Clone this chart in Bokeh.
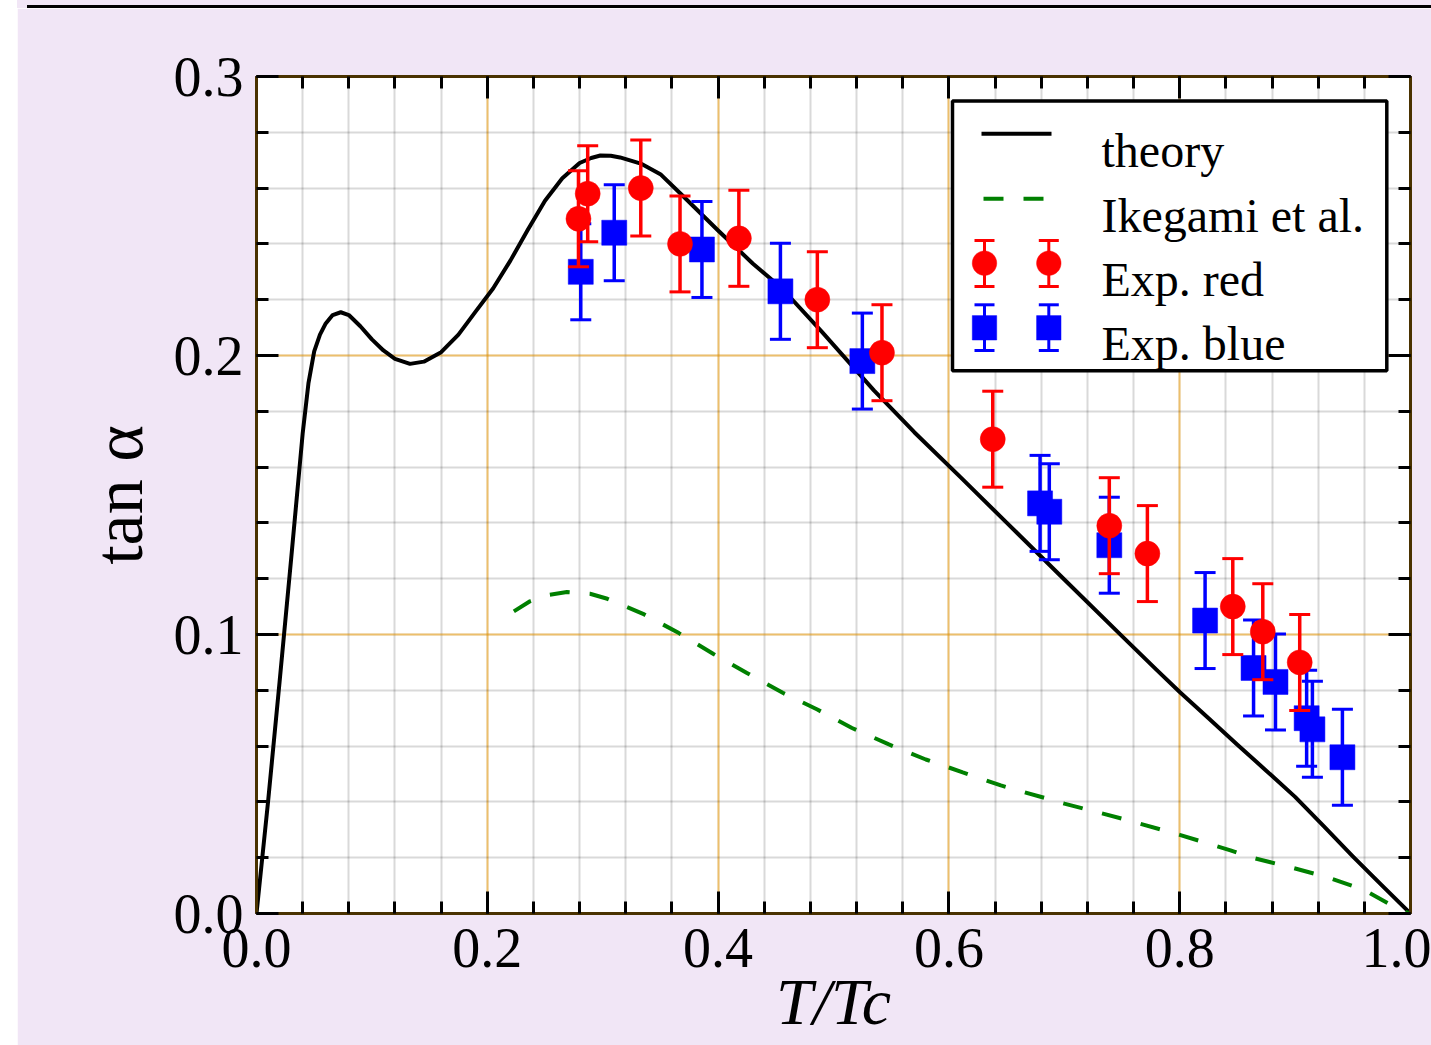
import math
from bokeh.plotting import figure
from bokeh.models import (Range1d, FixedTicker, PrintfTickFormatter, CustomJSTickFormatter,
                          LinearAxis, Label, Arrow, TeeHead, BoxAnnotation, PolyAnnotation,
                          ColumnDataSource)
from bokeh.embed import file_html
from bokeh.resources import INLINE

# ---------------- data ----------------
theory_T = [0.0, 0.01, 0.02, 0.03, 0.04, 0.045, 0.05, 0.055, 0.06, 0.066, 0.073, 0.08, 0.09, 0.10,
            0.11, 0.12, 0.133, 0.145, 0.16, 0.175, 0.19, 0.205, 0.22, 0.235, 0.25, 0.265, 0.28,
            0.29, 0.298, 0.307, 0.315, 0.333, 0.35, 0.37, 0.40, 0.43, 0.455, 0.49, 0.535, 0.57,
            0.61, 0.65, 0.70, 0.75, 0.78, 0.80, 0.825, 0.85, 0.875, 0.90, 0.925, 0.95, 0.975, 1.0]
theory_tan = [0.0, 0.040, 0.083, 0.127, 0.172, 0.190, 0.2015, 0.2075, 0.2115, 0.2145, 0.2155, 0.2145,
              0.2105, 0.2058, 0.2018, 0.1988, 0.1970, 0.1978, 0.2012, 0.2075, 0.2158, 0.2240, 0.2340,
              0.2450, 0.2555, 0.2635, 0.2690, 0.2708, 0.2717, 0.2716, 0.2710, 0.2688, 0.2650,
              0.2570, 0.2448, 0.2330, 0.2242, 0.2085, 0.1875, 0.1725, 0.1564, 0.1401, 0.1197,
              0.0994, 0.0873, 0.0794, 0.0700, 0.0605, 0.0512, 0.0418, 0.0312, 0.0205, 0.0102, 0.0]

ikegami_T = [0.223, 0.237, 0.253, 0.269, 0.289, 0.304, 0.336, 0.366, 0.396, 0.425, 0.456, 0.486,
             0.516, 0.548, 0.580, 0.612, 0.645, 0.700, 0.750, 0.800, 0.844, 0.861, 0.894, 0.928,
             0.959, 0.991, 1.0]
ikegami_tan = [0.1083, 0.1119, 0.1142, 0.1152, 0.1146, 0.1128, 0.1072, 0.1005, 0.0930, 0.0862,
               0.0791, 0.0731, 0.0665, 0.0606, 0.0552, 0.0506, 0.0459, 0.0394, 0.0340, 0.0282,
               0.0226, 0.0202, 0.0168, 0.0130, 0.0086, 0.0012, 0.0]

red_T = [0.279, 0.287, 0.333, 0.367, 0.418, 0.486, 0.542, 0.638, 0.739, 0.772, 0.846, 0.872, 0.904]
red_tan = [0.249, 0.258, 0.260, 0.240, 0.242, 0.220, 0.201, 0.170, 0.139, 0.129, 0.110, 0.101, 0.090]
red_err = [0.0172] * 13

blue_T = [0.281, 0.310, 0.386, 0.454, 0.525, 0.679, 0.687, 0.739, 0.822, 0.864, 0.883, 0.910,
          0.915, 0.941]
blue_tan = [0.230, 0.244, 0.238, 0.223, 0.198, 0.147, 0.144, 0.132, 0.105, 0.088, 0.083, 0.070,
            0.066, 0.056]
blue_err = [0.0172] * 14

x_ticks = [0.0, 0.2, 0.4, 0.6, 0.8, 1.0]
y_ticks = [0.0, 0.1, 0.2, 0.3]
x_minor = [round(0.04 * k, 2) for k in range(26)]
y_minor = [round(0.02 * k, 2) for k in range(16)]

legend_labels = ["theory", "Ikegami et al.", "Exp. red", "Exp. blue"]
x_label = "T/Tc"
y_label = "tan α"

# ---------------- styling constants ----------------
LAV = "#f1e6f6"
FONT = "Liberation Serif"
SPINE = "#4a3200"
X0, X1, Y0, Y1 = 0.0, 1.0, 0.0, 0.3
FW, FH = 1154, 837          # frame size in px


def dx(px):  # px from frame left -> data x
    return X0 + px / FW * (X1 - X0)


def dy(py):  # px from frame top -> data y
    return Y1 - py / FH * (Y1 - Y0)


p = figure(width=1414, height=1037, x_range=Range1d(X0, X1), y_range=Range1d(Y0, Y1),
           output_backend="svg", toolbar_location=None, title=None,
           min_border_left=239, min_border_right=21, min_border_top=68, min_border_bottom=132,
           background_fill_color="white", border_fill_color=LAV, outline_line_color=None)
p.margin = (8, 0, 0, 17)
p.styles = {"box-shadow": "10px -3px 0 0 #000000, 0 -8px 0 0 " + LAV}
p.add_layout(LinearAxis(), "above")
p.add_layout(LinearAxis(), "right")

for ax in p.xaxis:
    ax.ticker = FixedTicker(ticks=x_ticks, minor_ticks=x_minor)
for ax in p.yaxis:
    ax.ticker = FixedTicker(ticks=y_ticks, minor_ticks=y_minor)

for ax in list(p.xaxis) + list(p.yaxis):
    ax.axis_line_color = SPINE
    ax.axis_line_width = 3
    ax.major_tick_in = 22
    ax.major_tick_out = 0
    ax.minor_tick_in = 12
    ax.minor_tick_out = 0
    ax.major_tick_line_color = "black"
    ax.minor_tick_line_color = "black"
    ax.major_tick_line_width = 3
    ax.minor_tick_line_width = 3
    ax.major_label_text_font = FONT
    ax.major_label_text_font_size = "56px"
    ax.major_label_text_color = "black"

xb = p.below[0]
yl = p.left[0]
xb.formatter = PrintfTickFormatter(format="%.1f")
yl.formatter = PrintfTickFormatter(format="%.1f")
xb.major_label_standoff = 15
yl.major_label_standoff = 13

xb.axis_label = x_label
xb.axis_label_text_font = FONT
xb.axis_label_text_font_size = "66px"
xb.axis_label_text_font_style = "italic"
xb.axis_label_text_color = "black"
xb.axis_label_standoff = -5

yl.axis_label = y_label
yl.axis_label_text_font = FONT
yl.axis_label_text_font_size = "70px"
yl.axis_label_text_font_style = "normal"
yl.axis_label_text_color = "black"
yl.axis_label_standoff = 14

for ax in (p.above[0], p.right[0]):
    ax.formatter = CustomJSTickFormatter(code="return ''")
    ax.major_label_text_font_size = "0px"
    ax.major_label_standoff = 0

p.grid.grid_line_color = "#ffa500"
p.grid.grid_line_alpha = 0.5
p.grid.grid_line_width = 2
p.grid.minor_grid_line_color = "#000000"
p.grid.minor_grid_line_alpha = 0.15
p.grid.minor_grid_line_width = 2

# ---------------- curves ----------------
p.line(theory_T, theory_tan, line_color="black", line_width=4, line_join="round")
p.line(ikegami_T, ikegami_tan, line_color="#008000", line_width=4, line_dash="20 20")


def points(T, v, e, color, marker):
    src = ColumnDataSource(dict(x=T, y=v,
                                lo=[a - b for a, b in zip(v, e)],
                                hi=[a + b for a, b in zip(v, e)]))
    p.segment(x0="x", y0="lo", x1="x", y1="hi", source=src, line_color=color, line_width=3.5)
    p.scatter(x="x", y="lo", source=src, marker="dash", size=21, line_color=color, line_width=3)
    p.scatter(x="x", y="hi", source=src, marker="dash", size=21, line_color=color, line_width=3)
    p.scatter(x="x", y="y", source=src, marker=marker, size=25, fill_color=color,
              line_color=color, line_width=0.5)


points(blue_T, blue_tan, blue_err, "#0000ff", "square")
points(red_T, red_tan, red_err, "#ff0000", "circle")

# ---------------- legend (drawn as annotations inside the frame) ----------------
p.add_layout(BoxAnnotation(left=dx(696), right=dx(1130.3), top=dy(24.5), bottom=dy(294.3),
                           fill_color="white", fill_alpha=1.0, line_color="black",
                           line_alpha=1.0, line_width=3.5))
p.add_layout(Arrow(start=None, end=None, x_start=dx(725), x_end=dx(795), y_start=dy(57.3),
                   y_end=dy(57.3), line_color="black", line_width=4))
p.add_layout(Arrow(start=None, end=None, x_start=dx(727), x_end=dx(787), y_start=dy(122.3),
                   y_end=dy(122.3), line_color="#008000", line_width=4, line_dash="20 20"))

R = 12.2
for cx in (728, 792.3):
    p.add_layout(Arrow(start=TeeHead(size=20, line_color="#ff0000", line_width=3),
                       end=TeeHead(size=20, line_color="#ff0000", line_width=3),
                       x_start=dx(cx), x_end=dx(cx), y_start=dy(210), y_end=dy(164),
                       line_color="#ff0000", line_width=3))
    xs = [dx(cx + R * math.cos(2 * math.pi * k / 48)) for k in range(48)]
    ys = [dy(186.7 + R * math.sin(2 * math.pi * k / 48)) for k in range(48)]
    p.add_layout(PolyAnnotation(xs=xs, ys=ys, fill_color="#ff0000", fill_alpha=1.0,
                                line_color="#ff0000", line_alpha=1.0, line_width=0.5))
    p.add_layout(Arrow(start=TeeHead(size=20, line_color="#0000ff", line_width=3),
                       end=TeeHead(size=20, line_color="#0000ff", line_width=3),
                       x_start=dx(cx), x_end=dx(cx), y_start=dy(274), y_end=dy(228.3),
                       line_color="#0000ff", line_width=3))
    p.add_layout(BoxAnnotation(left=dx(cx - R), right=dx(cx + R), top=dy(251.3 - R),
                               bottom=dy(251.3 + R), fill_color="#0000ff", fill_alpha=1.0,
                               line_color="#0000ff", line_alpha=1.0, line_width=0.5))

for text, base in zip(legend_labels, (74, 139, 203, 267.3)):
    p.add_layout(Label(x=dx(845), y=dy(base), text=text, text_font=FONT, text_font_size="48px",
                       text_color="black", text_align="left", text_baseline="alphabetic"))

open("out.html", "w").write(file_html(p, INLINE, title="tan alpha"))
